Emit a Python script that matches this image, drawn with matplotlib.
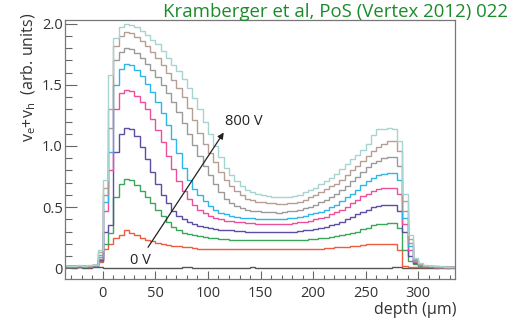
import matplotlib
matplotlib.use("Agg")
import matplotlib.pyplot as plt
import numpy as np
from matplotlib.ticker import MultipleLocator

plt.rcParams['font.family'] = ['Open Sans', 'DejaVu Sans']
plt.rcParams['mathtext.fontset'] = 'custom'
plt.rcParams['mathtext.rm'] = 'Open Sans'

# depth bins (um), 5 um wide
depth_edges = np.arange(-35, 340, 5)

# v_e + v_h per bin, one list per bias voltage
v_800 = [.02, .02, .025, .02, .025, .03, .15,
         .72, 1.58, 1.88, 1.97, 2.00, 1.99, 1.97, 1.94, 1.91, 1.87,
         1.83, 1.78, 1.72, 1.66, 1.61, 1.55, 1.47, 1.39, 1.30, 1.20,
         1.10, 1.00, 0.91, 0.82, 0.76, 0.71, 0.67, 0.64, 0.62, 0.61,
         0.60, 0.59, 0.58, 0.58, 0.58, 0.585, 0.59, 0.60, 0.62, 0.64,
         0.66, 0.69, 0.71, 0.74, 0.77, 0.81, 0.85, 0.89, 0.93, 0.97,
         1.02, 1.09, 1.14, 1.14, 1.15, 1.14, 1.04, 0.61, 0.27, 0.085,
         .04, .025, .02, .015, .015, .01, .01]
v_700 = [.02, .015, .02, .02, .02, .03, .13,
         .66, 1.30, 1.82, 1.90, 1.93, 1.92, 1.89, 1.86, 1.82, 1.77,
         1.72, 1.66, 1.60, 1.54, 1.47, 1.40, 1.31, 1.21, 1.11, 1.02,
         0.94, 0.87, 0.79, 0.72, 0.67, 0.63, 0.60, 0.57, 0.555, 0.545,
         0.54, 0.535, 0.53, 0.525, 0.525, 0.53, 0.535, 0.545, 0.56, 0.58,
         0.60, 0.62, 0.65, 0.67, 0.69, 0.72, 0.76, 0.80, 0.84, 0.88,
         0.92, 0.96, 0.99, 1.02, 1.04, 1.04, 0.96, 0.55, 0.24, 0.075,
         .035, .02, .02, .015, .01, .01, .01]
v_600 = [.015, .02, .02, .015, .02, .025, .11,
         .60, 1.15, 1.70, 1.77, 1.80, 1.79, 1.76, 1.72, 1.67, 1.62,
         1.56, 1.50, 1.43, 1.36, 1.28, 1.19, 1.10, 1.01, 0.92, 0.84,
         0.76, 0.69, 0.62, 0.57, 0.53, 0.51, 0.49, 0.48, 0.47, 0.465,
         0.46, 0.46, 0.46, 0.455, 0.46, 0.465, 0.47, 0.48, 0.49, 0.50,
         0.52, 0.54, 0.56, 0.58, 0.61, 0.64, 0.67, 0.71, 0.75, 0.79,
         0.83, 0.86, 0.88, 0.90, 0.91, 0.91, 0.84, 0.47, 0.21, 0.065,
         .03, .02, .015, .015, .01, .01, .01]
v_500 = [.02, .015, .015, .02, .02, .03, .09,
         .54, 0.95, 1.50, 1.63, 1.67, 1.66, 1.62, 1.57, 1.51, 1.44,
         1.36, 1.27, 1.17, 1.06, 0.94, 0.82, 0.72, 0.65, 0.60, 0.55,
         0.51, 0.48, 0.455, 0.44, 0.43, 0.42, 0.415, 0.41, 0.41, 0.405,
         0.405, 0.40, 0.40, 0.405, 0.405, 0.41, 0.415, 0.42, 0.43, 0.44,
         0.45, 0.46, 0.48, 0.50, 0.52, 0.55, 0.58, 0.61, 0.64, 0.68,
         0.71, 0.74, 0.76, 0.77, 0.78, 0.78, 0.72, 0.41, 0.18, 0.06,
         .03, .02, .015, .01, .01, .01, .01]
v_400 = [.015, .02, .015, .015, .02, .025, .08,
         .47, 0.80, 1.30, 1.43, 1.46, 1.45, 1.41, 1.36, 1.30, 1.22,
         1.13, 1.03, 0.92, 0.81, 0.71, 0.63, 0.57, 0.52, 0.48, 0.45,
         0.43, 0.415, 0.40, 0.39, 0.385, 0.38, 0.375, 0.37, 0.37, 0.365,
         0.365, 0.36, 0.36, 0.36, 0.36, 0.365, 0.37, 0.375, 0.38, 0.39,
         0.40, 0.41, 0.42, 0.44, 0.46, 0.48, 0.50, 0.53, 0.56, 0.59,
         0.61, 0.63, 0.65, 0.66, 0.66, 0.66, 0.61, 0.36, 0.15, 0.055,
         .025, .02, .015, .01, .01, .01, .01]
v_300 = [.02, .015, .01, .015, .015, .02, .07,
         .30, 0.35, 0.95, 1.10, 1.15, 1.14, 1.08, 0.99, 0.89, 0.79,
         0.69, 0.60, 0.53, 0.47, 0.43, 0.40, 0.38, 0.36, 0.345, 0.335,
         0.33, 0.32, 0.315, 0.31, 0.31, 0.305, 0.305, 0.30, 0.30, 0.30,
         0.30, 0.30, 0.30, 0.295, 0.30, 0.30, 0.30, 0.305, 0.31, 0.315,
         0.32, 0.33, 0.34, 0.35, 0.365, 0.38, 0.40, 0.42, 0.44, 0.46,
         0.48, 0.50, 0.51, 0.52, 0.52, 0.52, 0.47, 0.30, 0.10, 0.045,
         .025, .015, .01, .01, .01, .01, .01]
v_200 = [.015, .01, .015, .01, .015, .02, .06,
         .20, .285, .58, .69, .73, .72, .68, .63, .58, .53,
         .48, .43, .38, .34, .31, .29, .28, .27, .26, .255,
         .25, .245, .24, .24, .235, .235, .235, .23, .23, .23,
         .23, .23, .23, .23, .23, .23, .23, .235, .235, .24,
         .24, .245, .25, .255, .26, .27, .28, .29, .30, .32,
         .33, .35, .36, .365, .37, .37, .33, .15, .06, .035,
         .02, .015, .01, .01, .01, .01, .01]
v_100 = [.01, .015, .01, .015, .01, .015, .05,
         .16, .20, .245, .27, .31, .29, .27, .25, .23, .22,
         .21, .20, .19, .185, .18, .175, .17, .165, .16, .16,
         .16, .16, .16, .16, .16, .16, .16, .16, .16, .16,
         .155, .155, .155, .155, .155, .155, .155, .16, .16, .16,
         .16, .16, .165, .165, .17, .175, .175, .18, .18, .19,
         .195, .20, .20, .20, .20, .195, .15, .02, .01, .01,
         .01, .01, .01, .005, .01, .005, .01]
v_0 = [.01, .005, .01, .005, .005, .01, .01,
       .005, .005, .005, .005, .005, .005, .005, .005, .005, .005,
       .005, .005, .005, .005, .005, .01, .01, .005, .005, .005,
       .005, .005, .005, .005, .005, .005, .005, .005, .01, .005,
       .005, .005, .005, .005, .005, .005, .005, .005, .005, .005,
       .005, .005, .005, .005, .005, .005, .005, .005, .005, .005,
       .005, .005, .005, .005, .005, .012, .01, .005, .005, .005,
       .005, .005, .005, .005, .005, .005, .005]

curves = [v_0, v_100, v_200, v_300, v_400, v_500, v_600, v_700, v_800]
colours = ['#555555', '#ef5b3f', '#3aa65a', '#5b4ea3', '#ec4f9c',
           '#2fb5ea', '#9a9a9a', '#b59f95', '#a6d5cf']

yticks = [0, 0.5, 1.0, 1.5, 2.0]
yticklabels = ['0', '0.5', '1.0', '1.5', '2.0']
xticks = [0, 50, 100, 150, 200, 250, 300]

fig = plt.figure(figsize=(5.22, 3.22), dpi=100)
ax = fig.add_axes([65/522, 1 - 279.3/322, 390/522, 259.3/322])

for vals, col in zip(curves, colours):
    ax.stairs(vals, depth_edges, color=col, lw=1.0, baseline=None)

ax.set_xlim(-36, 335)
ax.set_ylim(-0.09, 2.03)
ax.set_xticks(xticks)
ax.set_yticks(yticks)
ax.set_yticklabels(yticklabels)
ax.xaxis.set_minor_locator(MultipleLocator(10))
ax.yaxis.set_minor_locator(MultipleLocator(0.1))
ax.tick_params(which='both', direction='in', top=False, right=False,
               color='#666666', width=0.8, labelsize=10.5, labelcolor='#333333')
ax.tick_params(axis='y', which='major', length=8.8, pad=1.5)
ax.tick_params(axis='y', which='minor', length=4.8)
ax.tick_params(axis='x', which='major', length=5.8, pad=5)
ax.tick_params(axis='x', which='minor', length=2.9)
for sp in ax.spines.values():
    sp.set_color('#777777')
    sp.set_linewidth(0.9)

# arrow from 0 V to 800 V
ax.annotate('', xy=(115, 1.11), xytext=(43, 0.172),
            arrowprops=dict(arrowstyle='-|>', color='#222222', lw=0.9,
                            mutation_scale=9, shrinkA=0, shrinkB=0))
ax.text(116, 1.20, '800 V', ha='left', va='center', fontsize=10.5, color='#222222')
ax.text(36, 0.061, '0 V', ha='center', va='center', fontsize=10.5, color='#222222')

fig.text(457/522, 1 - 314/322, 'depth (\u00b5m)', ha='right', va='baseline',
         fontsize=11.5, color='#333333')
fig.text(28.5/522, 1 - 13/322, r'$\mathregular{v_e{+}v_h}$  (arb. units)',
         rotation=90, ha='center', va='top', fontsize=11.5, color='#333333')
fig.text(508/522, 1 - 17.3/322, 'Kramberger et al, PoS (Vertex 2012) 022',
         ha='right', va='baseline', fontsize=13.4, color='#1a8c2a')

fig.savefig('out.png', dpi=100)
